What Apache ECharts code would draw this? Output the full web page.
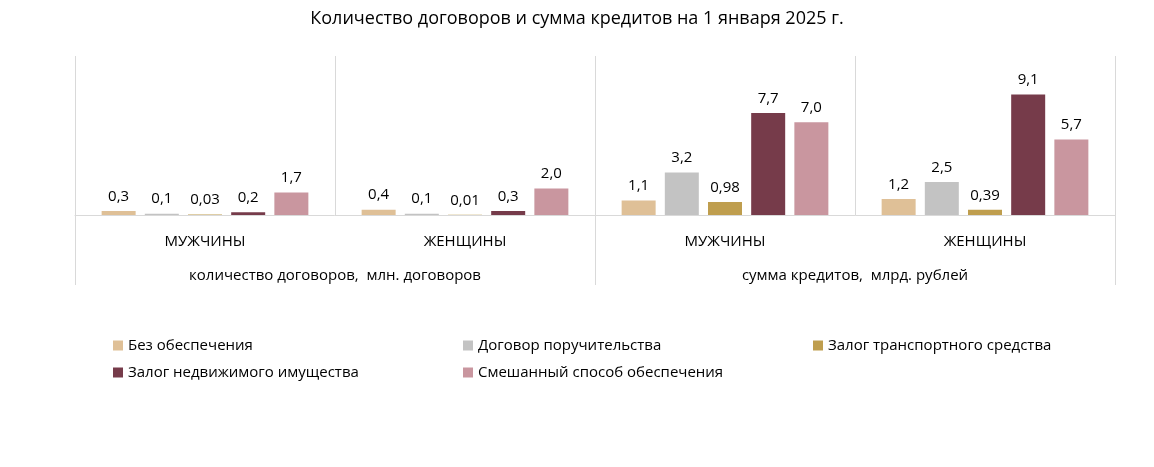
<!DOCTYPE html>
<html>
<head>
<meta charset="utf-8">
<script src="https://cdn.jsdelivr.net/npm/echarts@6/dist/echarts.min.js"></script>
<style>
html,body{margin:0;padding:0;background:#fff;}
#chart{width:1154px;height:467px;}
</style>
</head>
<body>
<div id="chart"></div>
<script>
const title = 'Количество договоров и сумма кредитов на 1 января 2025 г.';
const categories = ['МУЖЧИНЫ', 'ЖЕНЩИНЫ', 'МУЖЧИНЫ', 'ЖЕНЩИНЫ'];
const outerCategories = ['количество договоров,  млн. договоров', 'сумма кредитов,  млрд. рублей'];
const seriesNames = ['Без обеспечения', 'Договор поручительства', 'Залог транспортного средства', 'Залог недвижимого имущества', 'Смешанный способ обеспечения'];
const bezObesp = [0.3, 0.4, 1.1, 1.2];
const poruch = [0.1, 0.1, 3.2, 2.5];
const transport = [0.03, 0.01, 0.98, 0.39];
const nedvizh = [0.2, 0.3, 7.7, 9.1];
const smesh = [1.7, 2.0, 7.0, 5.7];
const seriesData = [bezObesp, poruch, transport, nedvizh, smesh];
const colors = ['#dfc097', '#c3c3c3', '#bf9e4e', '#763b4a', '#c9969f'];

const FONT = '"Open Sans", sans-serif';
function fmt(v) {
  const oneDec = Math.abs(Math.round(v * 10) - v * 10) < 1e-9;
  return (oneDec ? v.toFixed(1) : v.toFixed(2)).replace('.', ',');
}

const chart = echarts.init(document.getElementById('chart'));
const gridLeft = 75, gridRight = 39, gridTop = 56, gridBottom = 252;

chart.setOption({
  backgroundColor: '#fff',
  animation: false,
  color: colors,
  title: {
    text: title, left: 'center', top: 5,
    textStyle: { fontFamily: FONT, fontSize: 18, fontWeight: 'normal', color: '#000' }
  },
  legend: [
    { data: [seriesNames[0], seriesNames[3]], left: 108, top: 333 },
    { data: [seriesNames[1], seriesNames[4]], left: 458, top: 333 },
    { data: [seriesNames[2]], left: 808, top: 333 }
  ].map(l => Object.assign(l, {
    orient: 'vertical', icon: 'rect', itemWidth: 10, itemHeight: 10, itemGap: 12,
    textStyle: { fontFamily: FONT, fontSize: 15, color: '#000', lineHeight: 15 }
  })),
  grid: { left: gridLeft, right: gridRight, top: gridTop, bottom: gridBottom, containLabel: false },
  xAxis: [
    {
      type: 'category', data: categories, position: 'bottom',
      axisLine: { show: true, lineStyle: { color: '#d9d9d9', width: 1 } },
      axisTick: { show: false },
      splitLine: { show: true, lineStyle: { color: '#d9d9d9', width: 1 } },
      axisLabel: { margin: 19, fontFamily: FONT, fontSize: 15, color: '#000' }
    },
    {
      type: 'category', data: outerCategories, position: 'bottom',
      axisLine: { show: false },
      axisTick: { show: true, length: 70, lineStyle: { color: '#d9d9d9', width: 1 } },
      splitLine: { show: false },
      axisLabel: { margin: 53, fontFamily: FONT, fontSize: 15, color: '#000', interval: 0 }
    }
  ],
  yAxis: { type: 'value', min: 0, max: 12, show: false, splitLine: { show: false } },
  series: seriesData.map((d, i) => ({
    type: 'bar', name: seriesNames[i], data: d, xAxisIndex: 0,
    barWidth: 34, barGap: '27%',
    itemStyle: { color: colors[i] },
    label: {
      show: true, position: 'top', distance: 7,
      fontFamily: FONT, fontSize: 15, color: '#000',
      formatter: p => fmt(p.value)
    }
  }))
});
</script>
</body>
</html>
